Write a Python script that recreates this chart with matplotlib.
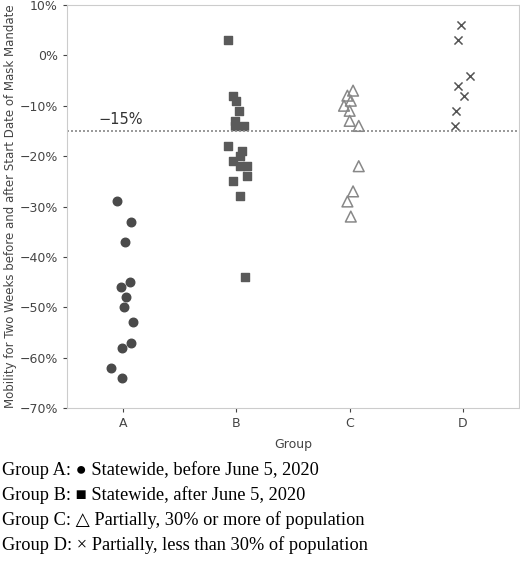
import matplotlib
matplotlib.use("Agg")
import matplotlib.pyplot as plt
import numpy as np

groups = ["A", "B", "C", "D"]
a_vals = [-29, -33, -37, -45, -46, -48, -50, -53, -57, -58, -62, -64]
a_off = [-0.05, 0.07, 0.02, 0.06, -0.02, 0.03, 0.01, 0.09, 0.07, -0.01, -0.11, -0.01]
b_vals = [3, -8, -9, -11, -13, -14, -14, -18, -19, -20, -21, -22, -22, -24, -25, -28, -44]
b_off = [-0.07, -0.03, 0.0, 0.02, -0.01, -0.01, 0.07, -0.07, 0.05, 0.03, -0.03, 0.03, 0.09, 0.09, -0.03, 0.03, 0.08]
c_vals = [-7, -8, -9, -10, -11, -13, -14, -22, -27, -29, -32]
c_off = [0.03, -0.02, 0.01, -0.05, 0.0, 0.0, 0.08, 0.08, 0.03, -0.02, 0.01]
d_vals = [6, 3, -4, -6, -8, -11, -14]
d_off = [-0.02, -0.04, 0.06, -0.04, 0.01, -0.06, -0.07]
threshold = -15
captions = ["Group A: \u25cf Statewide, before June 5, 2020",
            "Group B: \u25a0 Statewide, after June 5, 2020",
            "Group C: \u25b3 Partially, 30% or more of population",
            "Group D: \u00d7 Partially, less than 30% of population"]

fig = plt.figure(figsize=(5.2, 5.72), dpi=100)
ax = fig.add_axes([67/520, 1-408/572, 452/520, 403/572])
ax.scatter(0 + np.array(a_off), a_vals, marker="o", s=38, color="#4a4a4a")
ax.scatter(1 + np.array(b_off), b_vals, marker="s", s=34, color="#5a5a5a")
ax.scatter(2 + np.array(c_off), c_vals, marker="^", s=60, facecolors="none", edgecolors="#888888", linewidths=1.1)
ax.scatter(3 + np.array(d_off), d_vals, marker="x", s=34, color="#555555", linewidths=1.1)
ax.axhline(threshold, color="#888888", ls=(0, (1.2, 1.2)), lw=1.2)
ax.text(-0.22, threshold + 0.8, "\u221215%", fontsize=10.5, color="#333333", va="bottom")
ax.set_xlim(-0.494, 3.494)
ax.set_ylim(-70, 10)
ax.set_xticks(range(4))
ax.set_xticklabels(groups)
yt = np.arange(-70, 11, 10)
ax.set_yticks(yt)
ax.set_yticklabels([f"{v}%".replace("-", "\u2212") for v in yt])
ax.tick_params(colors="#444444", labelsize=9, length=3)
for s in ax.spines.values():
    s.set_color("#cccccc")
ax.set_xlabel("Group", fontsize=9, color="#444444", labelpad=6)
ax.set_ylabel("Mobility for Two Weeks before and after Start Date of Mask Mandate",
              fontsize=8.5, color="#444444", labelpad=2)
for i, c in enumerate(captions):
    fig.text(2/520, 1 - (470 + 25*i)/572, c, fontsize=13.2,
             family=["Liberation Serif", "DejaVu Sans"], color="black", va="center")
fig.savefig("out.png", dpi=100)
